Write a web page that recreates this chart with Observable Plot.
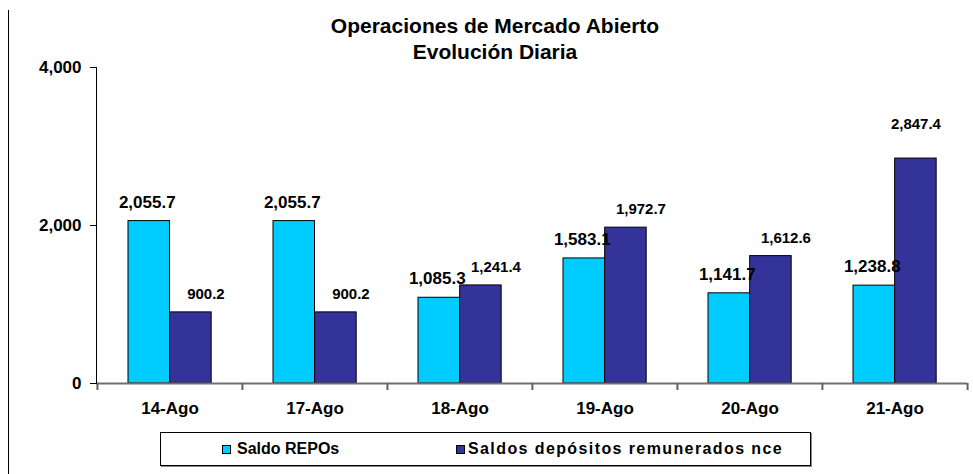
<!DOCTYPE html>
<html><head><meta charset="utf-8">
<script src="https://cdn.jsdelivr.net/npm/d3@7"></script>
<script src="https://cdn.jsdelivr.net/npm/@observablehq/plot@0.6"></script>
<style>
body{margin:0;background:#fff;font-family:"Liberation Sans",Arial,sans-serif;}
#wrap{position:relative;width:973px;height:474px;overflow:hidden;background:#fff}
#chart{position:absolute;left:0;top:0}
#border{position:absolute;left:8px;top:10px;width:0;height:470px;border-left:1px solid #000}
#title{position:absolute;left:295px;width:400px;top:13px;text-align:center;font-weight:bold;font-size:21px;line-height:26px;color:#000}
#legend{position:absolute;left:160px;top:432px;width:651px;height:34px;border:1px solid #000;box-shadow:1px 1px 0 #888;box-sizing:border-box;background:#fff}
.item{position:absolute;top:0;height:32px;line-height:32px;font-weight:bold;font-size:16px;white-space:nowrap;color:#000}
.sw{display:inline-block;width:7px;height:7px;border:1px solid #000;margin-right:6px;vertical-align:0px}
</style></head><body>
<div id="wrap">
  <div id="border"></div>
  <div id="chart"></div>
  <div id="title">Operaciones de Mercado Abierto<br>Evolución Diaria</div>
  <div id="legend"></div>
</div>
<script>
const fechas = ["14-Ago","17-Ago","18-Ago","19-Ago","20-Ago","21-Ago"];
const saldoRepos = [2055.7, 2055.7, 1085.3, 1583.1, 1141.7, 1238.8];
const saldoDepositos = [900.2, 900.2, 1241.4, 1972.7, 1612.6, 2847.4];
const yTicks = [0, 2000, 4000];
const series = ["Saldo REPOs", "Saldos depósitos remunerados nce"];
const colores = ["#00CCFF", "#333399"];

const repos = fechas.map((f, i) => ({fecha: f, valor: saldoRepos[i], i}));
const deps = fechas.map((f, i) => ({fecha: f, valor: saldoDepositos[i], i}));
const fmt = d3.format(",.1f");

const W = 973, H = 474, ML = 96, MR = 6;
const half = (W - ML - MR) / fechas.length / 2;
const bw = 41.67, off = 31;
const plotH = H - 67 - 91;

const chart = Plot.plot({
  width: W, height: H,
  marginLeft: ML, marginRight: MR, marginTop: 67, marginBottom: 91,
  style: {fontFamily: "'Liberation Sans', Arial, sans-serif", fontWeight: "bold", color: "#000", background: "transparent", overflow: "visible"},
  x: {domain: fechas, type: "band", padding: 0, label: null},
  y: {domain: [0, 4000], label: null},
  marks: [
    Plot.barY(repos, {x: "fecha", y: "valor", fill: colores[0], stroke: "#000", strokeWidth: 1,
      insetLeft: off, insetRight: 2 * half - off - bw}),
    Plot.barY(deps, {x: "fecha", y: "valor", fill: colores[1], stroke: "#000", strokeWidth: 1,
      insetLeft: off + bw, insetRight: 2 * half - off - 2 * bw}),
    Plot.ruleY([0], {stroke: "#707070", strokeWidth: 2}),
    Plot.tickX(fechas, {x: d => d, dx: -half, insetTop: plotH, insetBottom: -7, stroke: "#606060", strokeWidth: 2}),
    Plot.tickX(fechas.slice(-1), {x: d => d, dx: half, insetTop: plotH, insetBottom: -7, stroke: "#606060", strokeWidth: 2}),
    Plot.frame({anchor: "left", stroke: "#000"}),
    Plot.axisY({ticks: yTicks, tickFormat: d3.format(","), tickSize: 6, tickPadding: 9, fontSize: 17, fontWeight: "bold", label: null, stroke: "#000"}),
    Plot.axisX({tickSize: 0, tickPadding: 18, fontSize: 17, fontWeight: "bold", label: null}),
    Plot.text(repos, {x: "fecha", y: "valor", text: d => fmt(d.valor),
      dx: -half + off + bw / 2 - 2, dy: -19, fontSize: 17, fontWeight: "bold", fill: "#000"}),
    Plot.text(deps.filter(d => d.i < fechas.length - 1), {x: "fecha", y: "valor", text: d => fmt(d.valor),
      dx: -half + off + 1.5 * bw + 15, dy: -18, fontSize: 15, fontWeight: "bold", fill: "#000"}),
    Plot.text(deps.filter(d => d.i === fechas.length - 1), {x: "fecha", y: "valor", text: d => fmt(d.valor),
      dx: -half + off + 1.5 * bw, dy: -34, fontSize: 15, fontWeight: "bold", fill: "#000"})
  ]
});
document.getElementById("chart").appendChild(chart);

const legend = document.getElementById("legend");
const legendX = [61, 295];
const legendSpacing = ["0px", "1.4px"];
const swatchGap = ["6px", "3px"];
series.forEach((s, i) => {
  const it = document.createElement("div");
  it.className = "item";
  it.style.left = legendX[i] + "px";
  const sw = document.createElement("span");
  sw.className = "sw";
  sw.style.background = colores[i];
  sw.style.marginRight = swatchGap[i];
  it.appendChild(sw);
  const tx = document.createElement("span");
  tx.style.letterSpacing = legendSpacing[i];
  tx.textContent = s;
  it.appendChild(tx);
  legend.appendChild(it);
});
</script>
</body></html>
